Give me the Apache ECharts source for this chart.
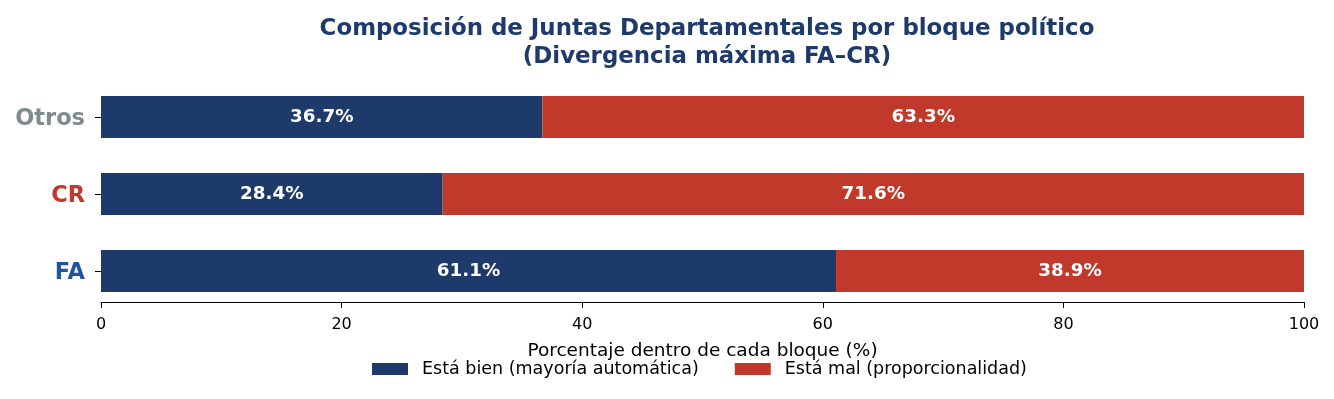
<!DOCTYPE html>
<html>
<head>
    <meta charset="utf-8">
    <title>Composición de Juntas Departamentales</title>
    <script src="https://cdn.jsdelivr.net/npm/echarts@6/dist/echarts.min.js"></script>
    <style>
        html, body { margin: 0; padding: 0; background: #fff; }
        #main { width: 1334px; height: 399px; }
    </style>
</head>
<body>
    <div id="main"></div>
    <script>
        // bloques, de abajo hacia arriba
        var bloques = ['FA', 'CR', 'Otros'];
        var bien = [61.1, 28.4, 36.7];
        var mal = [38.9, 71.6, 63.3];
        var xTicks = [0, 20, 40, 60, 80, 100];

        var colorBloque = { FA: '#1f55a6', CR: '#c0392b', Otros: '#7f8c8d' };

        var myChart = echarts.init(document.getElementById('main'));
        var font = 'DejaVu Sans';

        var option = {
            animation: false,
            backgroundColor: '#fff',
            textStyle: { fontFamily: font },
            title: {
                text: 'Composición de Juntas Departamentales por bloque político\n(Divergencia máxima FA–CR)',
                left: 702,
                textAlign: 'center',
                top: 10,
                textStyle: { fontFamily: font, fontSize: 22.9, fontWeight: 'bold', color: '#1d3a6b', lineHeight: 28 }
            },
            legend: {
                data: ['Está bien (mayoría automática)', 'Está mal (proporcionalidad)'],
                left: 372,
                top: 360,
                padding: 0,
                itemWidth: 36,
                itemHeight: 12,
                itemGap: 36,
                icon: 'rect',
                textStyle: { fontFamily: font, fontSize: 17.5, color: '#000', padding: [0, 0, 0, 9] }
            },
            grid: { left: 101, right: 30, top: 78.5, bottom: 89.5 },
            xAxis: {
                type: 'value',
                min: xTicks[0],
                max: xTicks[xTicks.length - 1],
                interval: 20,
                offset: -7.5,
                name: 'Porcentaje dentro de cada bloque (%)',
                nameLocation: 'middle',
                nameGap: 40,
                nameTextStyle: { fontFamily: font, fontSize: 18.5, color: '#000' },
                axisLine: { show: true, lineStyle: { color: '#000', width: 1.2 } },
                axisTick: { show: true, length: 6, lineStyle: { color: '#000' } },
                axisLabel: { fontFamily: font, fontSize: 16, color: '#000', margin: 15 },
                splitLine: { show: false }
            },
            yAxis: {
                type: 'category',
                data: bloques,
                axisLine: { show: false },
                axisTick: { show: true, length: 6, alignWithLabel: true, lineStyle: { color: '#000' } },
                axisLabel: {
                    margin: 16,
                    formatter: function (v) { return '{' + v + '|' + v + '}'; },
                    rich: {
                        FA: { fontFamily: font, fontSize: 22.5, fontWeight: 'bold', color: colorBloque.FA, padding: [4, 0, 0, 0] },
                        CR: { fontFamily: font, fontSize: 22.5, fontWeight: 'bold', color: colorBloque.CR, padding: [4, 0, 0, 0] },
                        Otros: { fontFamily: font, fontSize: 22.5, fontWeight: 'bold', color: colorBloque.Otros, padding: [4, 0, 0, 0] }
                    }
                }
            },
            series: [{
                name: 'Está bien (mayoría automática)',
                type: 'bar',
                stack: 'total',
                barWidth: 42,
                itemStyle: { color: '#1d3a6b' },
                label: {
                    show: true,
                    position: 'inside',
                    formatter: function (p) { return p.value.toFixed(1) + '%'; },
                    fontFamily: font, fontSize: 18.3, fontWeight: 'bold', color: '#fff'
                },
                data: bien
            }, {
                name: 'Está mal (proporcionalidad)',
                type: 'bar',
                stack: 'total',
                barWidth: 42,
                itemStyle: { color: '#c0392b' },
                label: {
                    show: true,
                    position: 'inside',
                    formatter: function (p) { return p.value.toFixed(1) + '%'; },
                    fontFamily: font, fontSize: 18.3, fontWeight: 'bold', color: '#fff'
                },
                data: mal
            }]
        };
        myChart.setOption(option);
    </script>
</body>
</html>
